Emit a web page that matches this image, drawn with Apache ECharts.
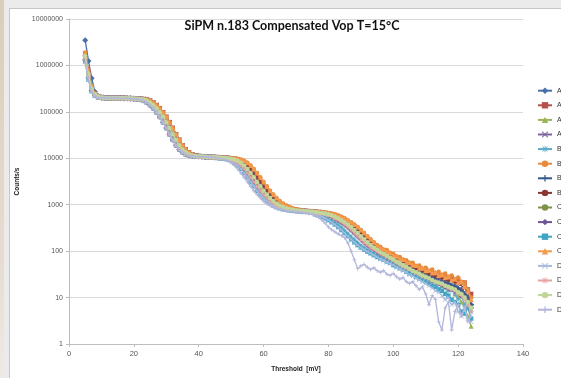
<!DOCTYPE html>
<html><head><meta charset="utf-8">
<script src="https://cdn.jsdelivr.net/npm/echarts@6/dist/echarts.min.js"></script>
<style>
html,body{margin:0;padding:0;}
body{width:561px;height:378px;background:#ebebeb;position:relative;overflow:hidden;}
#strip{position:absolute;left:0;top:0;width:4px;height:378px;background:linear-gradient(#d9cdbb,#e6ddd0 70%,#eeeae4);}
#panel{position:absolute;left:9px;top:8px;width:560px;height:380px;background:#fff;border:1px solid #c6c6c6;}
#chart{position:absolute;left:0;top:0;width:561px;height:378px;}
</style></head>
<body><div id="strip"></div><div id="panel"></div><div id="chart"></div>
<script>
const titleText = 'SiPM n.183 Compensated Vop T=15°C';
const xName = 'Threshold  [mV]';
const yName = 'Counts/s';
const seriesNames = ['A1','A2','A3','A4','B1','B2','B3','B4','C1','C2','C3','C4','D1','D2','D3','D4'];
const xTicks = [0,20,40,60,80,100,120,140];
const yTicks = [1,10,100,1000,10000,100000,1000000,10000000];
const thresholds = [5,6,7,8,9,10,11,12,13,14,15,16,17,18,19,20,21,22,23,24,25,26,27,28,29,30,31,32,33,34,35,36,37,38,39,40,41,42,43,44,45,46,47,48,49,50,51,52,53,54,55,56,57,58,59,60,61,62,63,64,65,66,67,68,69,70,71,72,73,74,75,76,77,78,79,80,81,82,83,84,85,86,87,88,89,90,91,92,93,94,95,96,97,98,99,100,101,102,103,104,105,106,107,108,109,110,111,112,113,114,115,116,117,118,119,120,121,122,123,124];

const A1 = [3.5e6,1.25e6,5.3e5,2.7e5,2.2e5,2.05e5,2e5,2e5,2e5,2e5,2e5,2e5,1.98e5,1.97e5,1.96e5,1.94e5,1.92e5,1.89e5,1.84e5,1.75e5,1.6e5,1.4e5,1.2e5,9.8e4,7.8e4,6e4,4.5e4,3.3e4,2.5e4,1.9e4,1.55e4,1.35e4,1.22e4,1.15e4,1.12e4,1.1e4,1.09e4,1.08e4,1.07e4,1.06e4,1.05e4,1.04e4,1.03e4,1.02e4,1e4,9800,9400,8800,8000,7000,5900,4800,3900,3100,2500,2000,1650,1400,1200,1060,960,890,840,800,780,760,745,735,725,715,705,695,680,665,645,620,590,550,510,465,420,375,330,285,245,210,180,155,135,120,108,95,92,80,78,66,64,55,54,45,44,38,39,33,34,28,29,25,26,21,23,19,20,17,18,14,15,11,9,7];
const A2 = [1.7e6,7e5,3.3e5,2.4e5,2.15e5,2.08e5,2.03e5,2.02e5,2.02e5,2.01e5,2.01e5,2e5,2e5,1.98e5,1.97e5,1.96e5,1.94e5,1.92e5,1.89e5,1.84e5,1.75e5,1.6e5,1.4e5,1.2e5,9.8e4,7.8e4,6e4,4.5e4,3.3e4,2.5e4,1.9e4,1.55e4,1.35e4,1.22e4,1.15e4,1.12e4,1.1e4,1.09e4,1.08e4,1.07e4,1.06e4,1.05e4,1.04e4,1.03e4,1.02e4,1e4,9800,9400,8800,8000,7000,5900,4800,3900,3100,2500,2000,1650,1400,1200,1060,960,890,840,800,780,760,745,735,725,715,705,695,680,665,645,620,590,550,510,465,420,375,330,285,245,210,180,155,135,120,110,98,94,82,78,68,66,58,57,49,50,43,43,37,38,33,34,29,30,27,28,24,27,23,24,21,21,15,12];
const A3 = [1.5e6,6e5,3e5,2.3e5,2.1e5,2.05e5,2e5,2e5,2e5,2e5,2e5,2e5,1.98e5,1.97e5,1.96e5,1.94e5,1.92e5,1.89e5,1.84e5,1.75e5,1.6e5,1.4e5,1.2e5,9.8e4,7.8e4,6e4,4.5e4,3.3e4,2.5e4,1.9e4,1.55e4,1.35e4,1.22e4,1.15e4,1.12e4,1.1e4,1.09e4,1.08e4,1.07e4,1.06e4,1.05e4,1.04e4,1.03e4,1.02e4,1e4,9800,9400,8800,8000,7000,5900,4800,3900,3100,2500,2000,1650,1400,1200,1060,960,890,840,800,780,760,745,735,725,715,705,695,680,665,645,620,590,550,510,465,420,375,330,285,245,210,180,155,135,120,108,96,88,84,72,70,60,58,50,48,42,41,36,35,30,31,26,27,22,23,18,19,15,16,12,11,8,6,4,2.4];
const A4 = [1.8e6,7.5e5,3.5e5,2.5e5,2.2e5,2.08e5,2.03e5,2.02e5,2.02e5,2.01e5,2.01e5,2e5,2e5,1.98e5,1.97e5,1.96e5,1.94e5,1.92e5,1.89e5,1.84e5,1.75e5,1.6e5,1.4e5,1.2e5,9.8e4,7.8e4,6e4,4.5e4,3.3e4,2.5e4,1.9e4,1.55e4,1.35e4,1.22e4,1.15e4,1.12e4,1.1e4,1.09e4,1.08e4,1.07e4,1.06e4,1.05e4,1.04e4,1.03e4,1.02e4,1e4,9800,9400,8800,8000,7000,5900,4800,3900,3100,2500,2000,1650,1400,1200,1060,960,890,840,800,780,760,745,735,725,715,705,695,680,665,645,620,590,550,510,465,420,375,330,285,245,210,180,155,135,120,104,96,86,80,72,66,60,56,50,47,43,40,37,34,33,30,28,27,25,23,22,21,19,18,17,15,13,11,9];
const B1 = [1.4e6,5.5e5,2.9e5,2.3e5,2.1e5,2.02e5,1.98e5,1.98e5,1.98e5,1.98e5,1.97e5,1.96e5,1.95e5,1.94e5,1.92e5,1.9e5,1.89e5,1.84e5,1.75e5,1.6e5,1.4e5,1.2e5,9.8e4,7.8e4,6e4,4.5e4,3.3e4,2.5e4,1.9e4,1.55e4,1.35e4,1.22e4,1.15e4,1.12e4,1.1e4,1.09e4,1.08e4,1.07e4,1.06e4,1.05e4,1.04e4,1.03e4,1.02e4,1e4,9800,9400,8800,8000,7000,5900,4800,3900,3100,2500,2000,1650,1400,1200,1060,960,890,840,800,780,760,745,735,725,715,705,695,680,665,590,550,510,465,420,375,330,285,245,210,180,155,135,120,108,98,90,82,76,72,68,64,58,54,50,46,42,39,35,33,30,28,26,24,22,21,19,18,16,14,15,12,9,11,7,8,5];
const B2 = [1.9e6,8e5,3.6e5,2.5e5,2.2e5,2.08e5,2.03e5,2.02e5,2.02e5,2.01e5,2.01e5,2e5,2e5,1.98e5,1.97e5,1.96e5,1.94e5,1.92e5,1.89e5,1.84e5,1.75e5,1.6e5,1.4e5,1.2e5,9.8e4,7.8e4,6e4,4.5e4,3.3e4,2.5e4,1.9e4,1.55e4,1.35e4,1.22e4,1.15e4,1.12e4,1.1e4,1.09e4,1.08e4,1.07e4,1.06e4,1.06e4,1.05e4,1.04e4,1.03e4,1.02e4,1e4,9800,9400,8800,8000,7000,5900,4800,3900,3100,2500,2000,1650,1400,1200,1060,960,890,840,800,780,760,745,735,725,715,705,695,680,665,645,620,590,550,510,465,420,375,330,285,245,210,180,155,135,125,108,106,92,88,78,75,66,64,56,56,48,49,42,44,38,40,34,36,31,33,28,30,25,27,22,21,15,10];
const B3 = [1.6e6,6.5e5,3.2e5,2.4e5,2.15e5,2.05e5,2e5,2e5,2e5,2e5,2e5,2e5,1.98e5,1.97e5,1.96e5,1.94e5,1.92e5,1.89e5,1.84e5,1.75e5,1.6e5,1.4e5,1.2e5,9.8e4,7.8e4,6e4,4.5e4,3.3e4,2.5e4,1.9e4,1.55e4,1.35e4,1.22e4,1.15e4,1.12e4,1.1e4,1.09e4,1.08e4,1.07e4,1.06e4,1.05e4,1.04e4,1.03e4,1.02e4,1e4,9800,9400,8800,8000,7000,5900,4800,3900,3100,2500,2000,1650,1400,1200,1060,960,890,840,800,780,760,745,735,725,715,705,695,680,665,645,620,590,550,510,465,420,375,330,285,245,210,180,155,135,120,108,100,91,83,77,69,63,58,53,48,44,41,38,35,33,31,29,27,25,23,22,21,20,18,17,16,14,12,10,7];
const B4 = [1.7e6,7e5,3.4e5,2.4e5,2.2e5,2.08e5,2.03e5,2.02e5,2.02e5,2.01e5,2.01e5,2e5,2e5,1.98e5,1.97e5,1.96e5,1.94e5,1.92e5,1.89e5,1.84e5,1.75e5,1.6e5,1.4e5,1.2e5,9.8e4,7.8e4,6e4,4.5e4,3.3e4,2.5e4,1.9e4,1.55e4,1.35e4,1.22e4,1.15e4,1.12e4,1.1e4,1.09e4,1.08e4,1.07e4,1.06e4,1.05e4,1.04e4,1.03e4,1.02e4,1e4,9800,9400,8800,8000,7000,5900,4800,3900,3100,2500,2000,1650,1400,1200,1060,960,890,840,800,780,760,745,735,725,715,705,695,680,665,645,620,590,550,510,465,420,375,330,285,245,210,180,155,135,120,108,98,90,82,74,68,63,58,53,48,45,42,38,36,34,32,30,28,27,26,24,23,22,21,20,18,16,13,9];
const C1 = [1.5e6,6.2e5,3.1e5,2.35e5,2.1e5,2.05e5,2e5,2e5,2e5,2e5,2e5,2e5,1.98e5,1.97e5,1.96e5,1.94e5,1.92e5,1.89e5,1.84e5,1.75e5,1.6e5,1.4e5,1.2e5,9.8e4,7.8e4,6e4,4.5e4,3.3e4,2.5e4,1.9e4,1.55e4,1.35e4,1.22e4,1.15e4,1.12e4,1.1e4,1.09e4,1.08e4,1.07e4,1.06e4,1.05e4,1.04e4,1.03e4,1.02e4,1e4,9800,9400,8800,8000,7000,5900,4800,3900,3100,2500,2000,1650,1400,1200,1060,960,890,840,800,780,760,745,735,725,715,705,695,680,665,645,620,590,550,510,465,420,375,330,285,245,210,180,155,135,120,108,97,89,80,74,67,61,56,51,46,43,39,36,33,31,29,27,25,23,21,20,19,18,17,16,14,13,11,9,6];
const C2 = [1.3e6,5.5e5,2.9e5,2.3e5,2.1e5,2.02e5,1.98e5,1.98e5,1.98e5,1.98e5,1.97e5,1.96e5,1.95e5,1.94e5,1.92e5,1.9e5,1.89e5,1.84e5,1.75e5,1.6e5,1.4e5,1.2e5,9.8e4,7.8e4,6e4,4.5e4,3.3e4,2.5e4,1.9e4,1.55e4,1.35e4,1.22e4,1.15e4,1.12e4,1.1e4,1.09e4,1.08e4,1.07e4,1.06e4,1.05e4,1.04e4,1.03e4,1.02e4,1e4,9800,9400,8800,8000,7000,5900,4800,3900,3100,2500,2000,1650,1400,1200,1060,960,890,840,800,780,760,745,735,725,715,705,695,680,665,645,620,590,550,510,465,420,375,330,285,245,210,180,155,135,120,108,98,86,79,72,66,60,55,50,46,42,38,36,33,30,28,27,25,23,22,20,19,17,16,15,14,13,11,10,8,6];
const C3 = [1.2e6,5e5,2.8e5,2.25e5,2.05e5,2.02e5,1.98e5,1.98e5,1.98e5,1.98e5,1.97e5,1.96e5,1.95e5,1.94e5,1.92e5,1.9e5,1.89e5,1.84e5,1.75e5,1.6e5,1.4e5,1.2e5,9.8e4,7.8e4,6e4,4.5e4,3.3e4,2.5e4,1.9e4,1.55e4,1.35e4,1.22e4,1.15e4,1.12e4,1.1e4,1.09e4,1.08e4,1.07e4,1.06e4,1.05e4,1.04e4,1.02e4,1e4,9800,9400,8800,8000,7000,5900,4800,3900,3100,2500,2000,1650,1400,1200,1060,960,890,840,800,780,760,745,735,725,715,705,695,680,620,590,550,510,465,420,375,330,285,245,210,180,155,135,120,108,98,90,82,75,70,66,60,56,50,47,43,40,36,33,31,28,26,24,22,20,18,17,15,14,12,11,9,8,7,5,4.5,6,3.5];
const C4 = [1.8e6,7.5e5,3.5e5,2.5e5,2.2e5,2.08e5,2.03e5,2.02e5,2.02e5,2.01e5,2.01e5,2e5,2e5,1.98e5,1.97e5,1.96e5,1.94e5,1.92e5,1.89e5,1.84e5,1.75e5,1.6e5,1.4e5,1.2e5,9.8e4,7.8e4,6e4,4.5e4,3.3e4,2.5e4,1.9e4,1.55e4,1.35e4,1.22e4,1.15e4,1.12e4,1.1e4,1.09e4,1.08e4,1.07e4,1.06e4,1.06e4,1.05e4,1.04e4,1.03e4,1.02e4,1e4,9800,9400,8800,8000,7000,5900,4800,3900,3100,2500,2000,1650,1400,1200,1060,960,890,840,800,780,760,745,735,725,715,705,695,680,665,645,620,590,550,510,465,420,375,330,285,245,210,180,155,135,118,110,98,92,80,78,68,66,58,56,50,49,43,44,38,39,34,35,30,31,27,28,24,25,21,22,17,14,9];
const D1 = [1.2e6,5e5,2.8e5,2.2e5,2.05e5,2.02e5,1.98e5,1.98e5,1.98e5,1.98e5,1.97e5,1.96e5,1.95e5,1.94e5,1.92e5,1.9e5,1.89e5,1.84e5,1.75e5,1.6e5,1.4e5,1.2e5,9.8e4,7.8e4,6e4,4.5e4,3.3e4,2.5e4,1.9e4,1.55e4,1.35e4,1.22e4,1.15e4,1.12e4,1.1e4,1.09e4,1.08e4,1.07e4,1.06e4,1.05e4,1.04e4,1.02e4,1e4,9800,9400,8800,8000,7000,5900,4800,3900,3100,2500,2000,1650,1400,1200,1060,960,890,840,800,780,760,745,735,725,715,705,695,680,620,590,550,510,465,420,375,330,285,245,210,180,155,135,120,108,98,90,82,75,68,64,58,54,50,45,42,38,35,31,29,26,24,22,20,18,16,14,13,11,9,10,7,8,5,4,6,3.5,3];
const D2 = [1.4e6,5.8e5,3e5,2.3e5,2.1e5,2.02e5,1.98e5,1.98e5,1.98e5,1.98e5,1.97e5,1.96e5,1.95e5,1.94e5,1.92e5,1.9e5,1.89e5,1.84e5,1.75e5,1.6e5,1.4e5,1.2e5,9.8e4,7.8e4,6e4,4.5e4,3.3e4,2.5e4,1.9e4,1.55e4,1.35e4,1.22e4,1.15e4,1.12e4,1.1e4,1.09e4,1.08e4,1.07e4,1.06e4,1.05e4,1.04e4,1.03e4,1.02e4,1e4,9800,9400,8800,8000,7000,5900,4800,3900,3100,2500,2000,1650,1400,1200,1060,960,890,840,800,780,760,745,735,725,715,705,695,680,665,645,620,590,550,510,465,420,375,330,285,245,210,180,155,135,120,108,98,88,82,74,68,62,57,52,47,43,40,37,34,31,29,27,25,23,22,20,19,18,16,15,14,12,11,9,7,5];
const D3 = [1.6e6,6.5e5,3.2e5,2.4e5,2.15e5,2.05e5,2e5,2e5,2e5,2e5,2e5,2e5,1.98e5,1.97e5,1.96e5,1.94e5,1.92e5,1.89e5,1.84e5,1.75e5,1.6e5,1.4e5,1.2e5,9.8e4,7.8e4,6e4,4.5e4,3.3e4,2.5e4,1.9e4,1.55e4,1.35e4,1.22e4,1.15e4,1.12e4,1.1e4,1.09e4,1.08e4,1.07e4,1.06e4,1.05e4,1.04e4,1.03e4,1.02e4,1e4,9800,9400,8800,8000,7000,5900,4800,3900,3100,2500,2000,1650,1400,1200,1060,960,890,840,800,780,760,745,735,725,715,705,695,680,665,645,620,590,550,510,465,420,375,330,285,245,210,180,155,135,120,108,95,88,80,73,66,60,55,50,46,42,38,35,33,30,28,26,24,22,21,20,18,17,16,15,13,12,10,8,6];
const D4 = [1.1e6,4.8e5,2.7e5,2.2e5,2e5,2.02e5,1.98e5,1.98e5,1.98e5,1.98e5,1.97e5,1.96e5,1.95e5,1.94e5,1.92e5,1.9e5,1.89e5,1.84e5,1.75e5,1.6e5,1.4e5,1.2e5,9.8e4,7.8e4,6e4,4.5e4,3.3e4,2.5e4,1.9e4,1.55e4,1.35e4,1.22e4,1.15e4,1.12e4,1.1e4,1.09e4,1.08e4,1.07e4,1.06e4,1.05e4,1.04e4,1e4,9800,9400,8800,8000,7000,5900,4800,3900,3100,2500,2000,1650,1400,1200,1060,960,890,840,800,780,735,725,715,705,695,680,665,645,620,580,530,470,400,330,290,260,235,215,195,150,100,65,42,48,52,45,40,44,38,35,38,32,30,33,28,25,27,22,20,22,18,15,17,12,7,11,9,3,2,6,8,2,5,7,4,6,3,4];

const seriesValues = [A1,A2,A3,A4,B1,B2,B3,B4,C1,C2,C3,C4,D1,D2,D3,D4];
const colors = ['#4a70a8','#b5504d','#9bb35a','#7b67a0','#5aaac8','#e8893c','#34598a','#8c3633','#7e9348','#6e5596','#3fa5c3','#f39a4c','#a8bbdf','#e5a3a2','#c2d69a','#b3b6da'];
const X_SYM = 'path://M1,0L5,4L9,0L10,1L6,5L10,9L9,10L5,6L1,10L0,9L4,5L0,1Z';
const PLUS_SYM = 'path://M4,0H6V4H10V6H6V10H4V6H0V4H4Z';
const STAR_SYM = 'path://M4.4,0H5.6V4.4H10V5.6H5.6V10H4.4V5.6H0V4.4H4.4Z M1.5,0.7L5,4.2L8.5,0.7L9.3,1.5L5.8,5L9.3,8.5L8.5,9.3L5,5.8L1.5,9.3L0.7,8.5L4.2,5L0.7,1.5Z';
const symbols = ['diamond','rect','triangle',X_SYM,STAR_SYM,'circle',PLUS_SYM,'none','none','diamond','rect','triangle',X_SYM,STAR_SYM,'circle',PLUS_SYM];
const symSizes = [6,4.5,5,5,5,4.5,5,0,0,6,4.5,5,5,5,4.5,4];

const chart = echarts.init(document.getElementById('chart'), null, {renderer:'canvas'});
const series = seriesNames.map((name, k) => ({
  name: name,
  type: 'line',
  data: thresholds.map((x, i) => [x, seriesValues[k][i]]),
  symbol: symbols[k],
  symbolSize: symSizes[k],
  showSymbol: symbols[k] !== 'none',
  lineStyle: {width: 1.3, color: colors[k]},
  itemStyle: {color: colors[k], borderColor: colors[k], borderWidth: 0},
  emphasis: {disabled: true},
  z: 2 + k * 0.01
}));

chart.setOption({
  animation: false,
  backgroundColor: 'transparent',
  textStyle: {fontFamily: 'Liberation Sans'},
  grid: {left: 69, right: 38, top: 19, bottom: 33},
  graphic: [{
    type: 'text', x: 292, y: 26, z: 10,
    style: {text: titleText, font: 'bold 12.5px Lato', fill: '#111', textAlign: 'center', textVerticalAlign: 'middle'}
  }],
  legend: {
    orient: 'vertical', left: 537, top: 86.7, padding: 0,
    itemWidth: 14, itemHeight: 8, itemGap: 6.6,
    textStyle: {fontSize: 7, color: '#333', lineHeight: 8},
    data: seriesNames
  },
  xAxis: {
    type: 'value', min: xTicks[0], max: xTicks[xTicks.length-1], interval: 20,
    name: xName, nameLocation: 'middle', nameGap: 22,
    nameTextStyle: {fontSize: 6.5, fontWeight: 'bold', color: '#222'},
    axisLine: {lineStyle: {color: '#bdbdbd', width: 1}},
    axisTick: {show: true, length: 3, lineStyle: {color: '#bdbdbd'}},
    axisLabel: {fontSize: 7.5, color: '#555', margin: 6},
    splitLine: {show: false}
  },
  yAxis: {
    type: 'log', logBase: 10, min: yTicks[0], max: yTicks[yTicks.length-1],
    name: yName, nameLocation: 'middle', nameGap: 47,
    nameTextStyle: {fontSize: 6.5, fontWeight: 'bold', color: '#222'},
    axisLine: {show: true, lineStyle: {color: '#bdbdbd', width: 1}},
    axisTick: {show: true, length: 3, lineStyle: {color: '#bdbdbd'}},
    axisLabel: {fontSize: 7, color: '#555', margin: 6, formatter: v => String(Math.round(v))},
    splitLine: {show: true, lineStyle: {color: '#d9d9d9', width: 1}}
  },
  series: series
});
</script>
</body></html>
